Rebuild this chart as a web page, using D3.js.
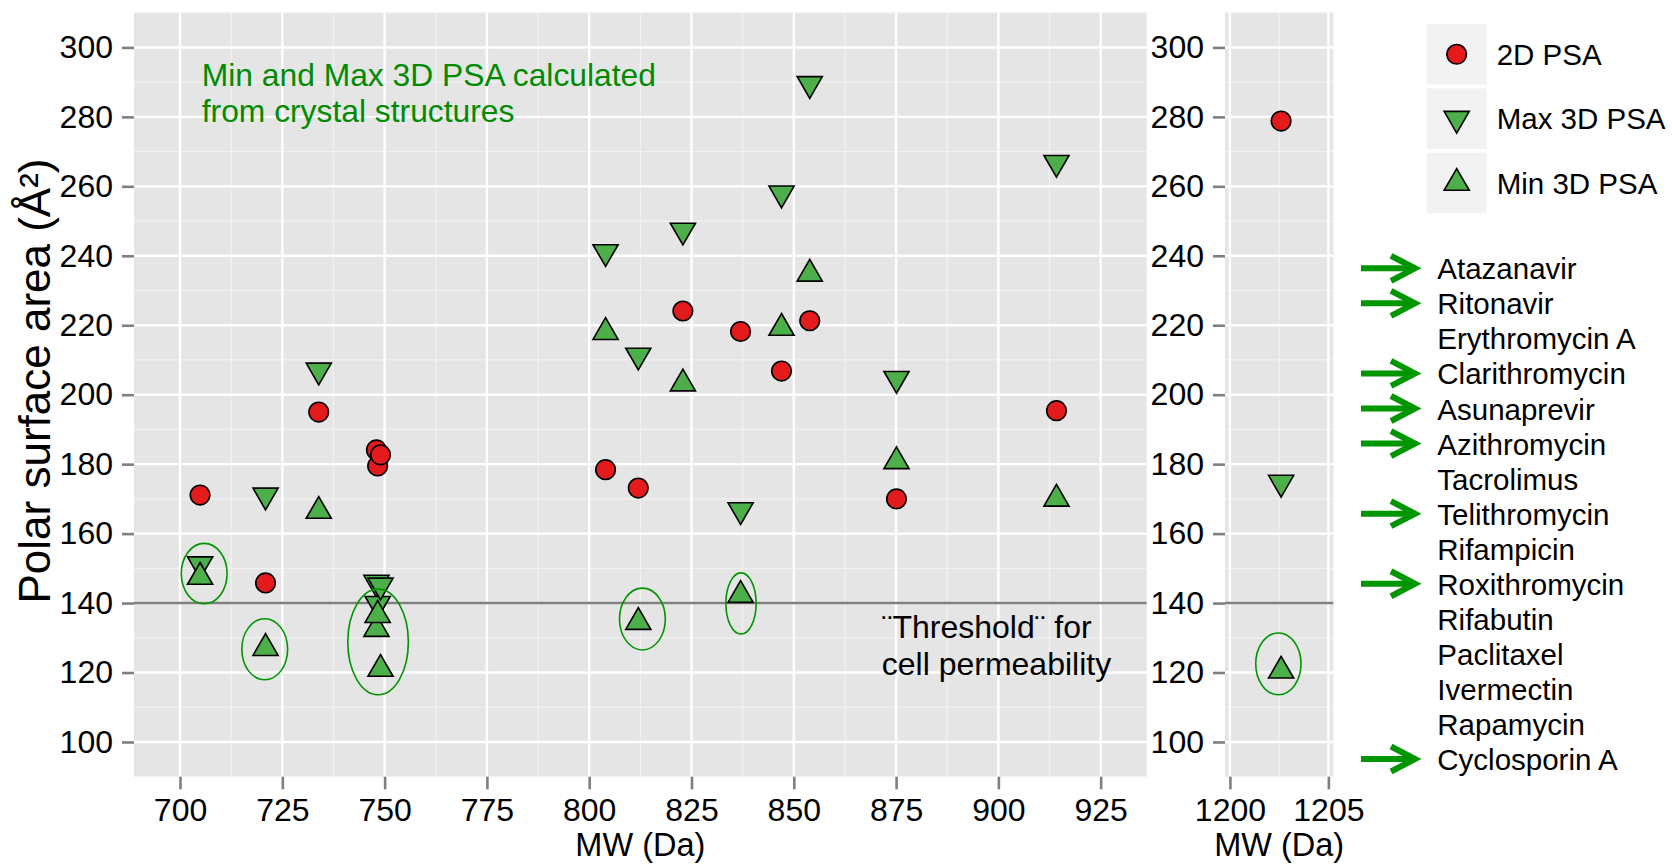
<!DOCTYPE html>
<html>
<head>
<meta charset="utf-8">
<script src="https://cdn.jsdelivr.net/npm/d3@7"></script>
<style>
  body { margin: 0; background: #ffffff; }
  text { font-family: "Liberation Sans", Arial, Helvetica, sans-serif; }
</style>
</head>
<body>
<svg id="chart" width="1672" height="864"></svg>
<script>
// ---- data -------------------------------------------------------------
const drugs = ["Atazanavir", "Ritonavir", "Erythromycin A", "Clarithromycin", "Asunaprevir",
  "Azithromycin", "Tacrolimus", "Telithromycin", "Rifampicin", "Roxithromycin", "Rifabutin",
  "Paclitaxel", "Ivermectin", "Rapamycin", "Cyclosporin A"];
const mw       = [704.9, 720.9, 733.9, 748.0, 748.3, 749.0, 804.0, 812.0, 822.9, 837.0, 847.0, 853.9, 875.1, 914.2, 1202.6];
const psa2D    = [171.1, 145.8, 195.0, 184.1, 179.5, 182.7, 178.4, 173.1, 224.1, 218.2, 206.8, 221.3, 170.0, 195.4, 278.8];
const psa3DMax = [151.2, 171.0, 207.0, 145.9, 139.8, 145.1, 241.1, 211.3, 247.3, 166.8, 258.0, 289.5, 204.6, 266.8, 174.7];
const psa3DMin = [147.5, 127.0, 166.5, 132.5, 136.5, 121.0, 218.0, 134.5, 203.2, 142.3, 219.2, 234.8, 180.8, 170.0, 120.5];
// drugs marked with an arrow in the side list
const marked   = [true, true, false, true, true, true, false, true, false, true, false, false, false, false, true];

// ellipses around the low minimum 3D PSA values (centre MW, centre PSA, half-widths)
const ringMW  = [705.9, 720.7, 748.4, 813.0, 837.1, 1202.46];
const ringPSA = [148.5, 126.7, 128.8, 135.4, 139.9, 122.5];
const ringRx  = [5.6, 5.6, 7.4, 5.6, 3.7, 1.15];
const ringRy  = [8.7, 8.8, 15.2, 8.9, 8.8, 8.9];

const threshold = 140;
const yTicks = [100, 120, 140, 160, 180, 200, 220, 240, 260, 280, 300];
const yMinor = [90, 110, 130, 150, 170, 190, 210, 230, 250, 270, 290, 310];
const xTicksMain = [700, 725, 750, 775, 800, 825, 850, 875, 900, 925];
const xMinorMain = [712.5, 737.5, 762.5, 787.5, 812.5, 837.5, 862.5, 887.5, 912.5];
const xTicksWide = [1200, 1205];
const xMinorWide = [1202.5];

const seriesNames = ["2D PSA", "Max 3D PSA", "Min 3D PSA"];

// ---- layout -----------------------------------------------------------
const svg = d3.select("#chart");
const FONT = 32;
const RED = "#E41A1C", GREEN = "#4DAF4A", DARKGREEN = "#008B00", ARROWGREEN = "#009600";
const PANEL_BG = "#E5E5E5", MINOR = "#F2F2F2", TICK = "#7F7F7F";

const y = d3.scaleLinear().domain([90, 310]).range([776.7, 12.7]);
const panels = [
  { x: d3.scaleLinear().domain([688.75, 936.25]).range([134, 1146.7]),
    ticks: xTicksMain, minor: xMinorMain, keep: m => m < 1000 },
  { x: d3.scaleLinear().domain([1199.75, 1205.25]).range([1225, 1333.3]),
    ticks: xTicksWide, minor: xMinorWide, keep: m => m >= 1000 }
];

const rows = drugs.map((d, i) => ({ name: d, mw: mw[i], p2: psa2D[i], pMax: psa3DMax[i], pMin: psa3DMin[i] }));
const rings = ringMW.map((m, i) => ({ mw: m, psa: ringPSA[i], rx: ringRx[i], ry: ringRy[i] }));

const R_TRI = 14.5, R_CIRC = 9.8, SW = 1.6;
function triPath(up) {
  const s = up ? 1 : -1, h = R_TRI * Math.sqrt(3) / 2;
  return `M0,${-s * R_TRI}L${h},${s * R_TRI / 2}L${-h},${s * R_TRI / 2}Z`;
}

panels.forEach((p, pi) => {
  const [x0, x1] = p.x.range();
  const [yb, yt] = y.range();
  const g = svg.append("g");

  g.append("rect").attr("x", x0).attr("y", yt).attr("width", x1 - x0).attr("height", yb - yt).attr("fill", PANEL_BG);

  // grid
  g.selectAll(".ymin").data(yMinor).join("line")
    .attr("x1", x0).attr("x2", x1).attr("y1", d => y(d)).attr("y2", d => y(d))
    .attr("stroke", MINOR).attr("stroke-width", 1.2);
  g.selectAll(".xmin").data(p.minor).join("line")
    .attr("y1", yt).attr("y2", yb).attr("x1", d => p.x(d)).attr("x2", d => p.x(d))
    .attr("stroke", MINOR).attr("stroke-width", 1.2);
  g.selectAll(".ymaj").data(yTicks).join("line")
    .attr("x1", x0).attr("x2", x1).attr("y1", d => y(d)).attr("y2", d => y(d))
    .attr("stroke", "#ffffff").attr("stroke-width", 2.4);
  g.selectAll(".xmaj").data(p.ticks).join("line")
    .attr("y1", yt).attr("y2", yb).attr("x1", d => p.x(d)).attr("x2", d => p.x(d))
    .attr("stroke", "#ffffff").attr("stroke-width", 2.4);

  // permeability threshold
  g.append("line").attr("x1", x0).attr("x2", x1)
    .attr("y1", y(threshold)).attr("y2", y(threshold))
    .attr("stroke", "#808080").attr("stroke-width", 2.6);

  // axes
  const ax = g.append("g").attr("transform", `translate(${x0},0)`)
    .call(d3.axisLeft(y).tickValues(yTicks).tickSize(12).tickPadding(9));
  const bx = g.append("g").attr("transform", `translate(0,${yb})`)
    .call(d3.axisBottom(p.x).tickValues(p.ticks).tickSize(12.6).tickPadding(9).tickFormat(d3.format("d")));
  [ax, bx].forEach(a => {
    a.select(".domain").remove();
    a.selectAll(".tick line").attr("stroke", TICK).attr("stroke-width", 2.6);
    a.selectAll(".tick text").attr("fill", "#000").style("font-size", FONT + "px")
      .style("font-family", "'Liberation Sans', Arial, sans-serif");
  });

  g.append("text").attr("x", (x0 + x1) / 2).attr("y", 856).attr("text-anchor", "middle")
    .style("font-size", "32.5px").text("MW (Da)");

  const pts = rows.filter(r => p.keep(r.mw));
  const dots = g.append("g");
  dots.selectAll("circle").data(pts).join("circle")
    .attr("cx", d => p.x(d.mw)).attr("cy", d => y(d.p2)).attr("r", R_CIRC)
    .attr("fill", RED).attr("stroke", "#000").attr("stroke-width", SW);
  dots.selectAll(".tmax").data(pts).join("path").attr("class", "tmax")
    .attr("d", triPath(false)).attr("transform", d => `translate(${p.x(d.mw)},${y(d.pMax)})`)
    .attr("fill", GREEN).attr("stroke", "#000").attr("stroke-width", SW).attr("stroke-linejoin", "miter");
  dots.selectAll(".tmin").data(pts).join("path").attr("class", "tmin")
    .attr("d", triPath(true)).attr("transform", d => `translate(${p.x(d.mw)},${y(d.pMin)})`)
    .attr("fill", GREEN).attr("stroke", "#000").attr("stroke-width", SW).attr("stroke-linejoin", "miter");

  const rs = rings.filter(r => p.keep(r.mw));
  g.selectAll(".ring").data(rs).join("ellipse").attr("class", "ring")
    .attr("cx", d => p.x(d.mw)).attr("cy", d => y(d.psa))
    .attr("rx", d => p.x(d.mw + d.rx) - p.x(d.mw))
    .attr("ry", d => y(d.psa - d.ry) - y(d.psa))
    .attr("fill", "none").attr("stroke", ARROWGREEN).attr("stroke-width", 1.6);

  if (pi === 0) {
    const note = g.append("text").attr("x", p.x(705.3)).attr("y", y(288.9))
      .attr("fill", DARKGREEN).style("font-size", "31.8px");
    note.append("tspan").text("Min and Max 3D PSA calculated");
    note.append("tspan").attr("x", p.x(705.3)).attr("dy", 35.7).text("from crystal structures");

    const thr = g.append("text").attr("x", p.x(871.5)).attr("y", y(129.9))
      .attr("fill", "#000").style("font-size", "32px");
    thr.append("tspan").text("\u00A8Threshold\u00A8 for");
    thr.append("tspan").attr("x", p.x(871.5)).attr("dy", 36.7).text("cell permeability");
  }
});

// y axis title
svg.append("text").attr("transform", "translate(50,381) rotate(-90)")
  .attr("text-anchor", "middle").style("font-size", "44px")
  .text("Polar surface area (\u00C5\u00B2)");

// ---- legend -----------------------------------------------------------
const keyY = d3.scaleBand().domain(seriesNames).range([24, 213.3]).paddingInner(0.06);
const leg = svg.append("g");
seriesNames.forEach((s, i) => {
  const ky = keyY(s), kh = keyY.bandwidth();
  leg.append("rect").attr("x", 1426.7).attr("y", ky).attr("width", 60).attr("height", kh).attr("fill", "#F2F2F2");
  const cx = 1456.7, cy = ky + kh / 2;
  if (i === 0) {
    leg.append("circle").attr("cx", cx).attr("cy", cy).attr("r", R_CIRC)
      .attr("fill", RED).attr("stroke", "#000").attr("stroke-width", SW);
  } else {
    leg.append("path").attr("d", triPath(i === 2)).attr("transform", `translate(${cx},${cy})`)
      .attr("fill", GREEN).attr("stroke", "#000").attr("stroke-width", SW);
  }
  leg.append("text").attr("x", 1496.7).attr("y", cy + 10.6).style("font-size", "29.5px").text(s);
});

// ---- drug list with arrows ---------------------------------------------
const listY = d3.scalePoint().domain(drugs).range([279.3, 770]);
const list = svg.append("g");
list.selectAll("text").data(drugs).join("text")
  .attr("x", 1437.3).attr("y", d => listY(d)).style("font-size", "29.5px").text(d => d);
const arrows = list.selectAll(".arrow").data(drugs.filter((d, i) => marked[i])).join("g")
  .attr("class", "arrow").attr("transform", d => `translate(0,${listY(d) - 11})`);
arrows.append("line").attr("x1", 1361).attr("x2", 1413).attr("y1", 0).attr("y2", 0)
  .attr("stroke", ARROWGREEN).attr("stroke-width", 6);
arrows.append("path").attr("d", "M1391,-12.5L1415,0L1391,12.5")
  .attr("fill", "none").attr("stroke", ARROWGREEN).attr("stroke-width", 6)
  .attr("stroke-linejoin", "miter").attr("stroke-linecap", "butt");
</script>
</body>
</html>
